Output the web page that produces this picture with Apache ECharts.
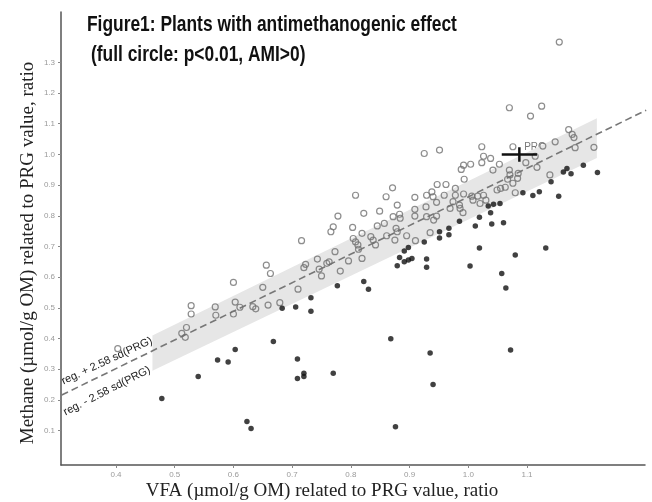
<!DOCTYPE html>
<html>
<head>
<meta charset="utf-8">
<script src="https://cdn.jsdelivr.net/npm/echarts@6/dist/echarts.min.js"></script>
<style>
html, body { margin: 0; padding: 0; background: #fff; }
#chart { width: 652px; height: 502px; }
</style>
</head>
<body>
<div id="chart"></div>
<script>
// tick labels
var xTicks = [0.4, 0.5, 0.6, 0.7, 0.8, 0.9, 1.0, 1.1];
var yTicks = [0.1, 0.2, 0.3, 0.4, 0.5, 0.6, 0.7, 0.8, 0.9, 1.0, 1.1, 1.2, 1.3];

// open circles (not significant)
var openX = [0.403,0.528,0.528,0.520,0.512,0.518,0.569,0.570,0.600,0.603,
  0.600,0.611,0.633,0.638,0.659,0.656,0.663,0.650,0.679,0.808,
  0.871,0.860,0.879,0.849,0.822,0.778,0.883,0.872,0.884,0.857,
  0.845,0.803,0.770,0.766,0.877,0.879,0.861,0.875,0.819,0.804,
  0.808,0.812,0.813,0.834,0.838,0.842,0.716,0.773,0.743,0.759,
  0.763,0.796,0.819,0.723,0.720,0.746,0.750,0.782,0.710,0.895,
  1.070,1.125,1.106,0.925,0.951,1.023,1.076,1.148,1.026,1.038,
  1.023,1.053,1.004,0.992,0.988,1.042,1.098,1.114,1.117,1.070,
  1.071,1.085,1.084,1.067,1.076,0.993,1.139,1.049,1.055,1.063,
  1.080,1.026,1.016,1.030,1.020,0.947,0.962,0.978,0.909,0.929,
  0.938,0.940,0.959,0.946,0.978,0.992,0.974,0.985,1.006,1.008,
  0.909,0.909,0.928,0.929,0.946,0.969,0.986,0.910,1.155,1.171,
  1.177,1.180,1.127,1.182,1.214,0.941,0.935,0.991];
var openY = [0.367,0.507,0.480,0.436,0.417,0.404,0.503,0.476,0.583,0.519,
  0.480,0.502,0.504,0.497,0.509,0.639,0.612,0.567,0.517,0.867,
  0.891,0.862,0.835,0.815,0.808,0.799,0.805,0.797,0.792,0.775,
  0.767,0.762,0.764,0.748,0.759,0.748,0.735,0.721,0.743,0.726,
  0.715,0.705,0.691,0.732,0.721,0.705,0.719,0.683,0.659,0.645,
  0.650,0.653,0.661,0.642,0.631,0.626,0.604,0.620,0.561,0.735,
  1.152,1.157,1.125,1.003,1.014,1.025,1.025,1.041,0.994,0.987,
  0.973,0.968,0.968,0.965,0.951,0.949,0.973,0.994,0.958,0.949,
  0.933,0.938,0.922,0.919,0.906,0.919,0.933,0.884,0.889,0.893,
  0.875,0.867,0.864,0.851,0.840,0.902,0.902,0.889,0.860,0.867,
  0.878,0.862,0.867,0.844,0.867,0.871,0.846,0.835,0.864,0.851,
  0.821,0.799,0.829,0.797,0.799,0.824,0.824,0.719,1.366,1.081,
  1.065,1.055,1.027,1.022,1.023,0.786,0.745,0.810];

// full circles (p<0.01, AMI>0)
var fullX = [0.478,0.540,0.573,0.591,0.603,0.668,0.709,0.709,0.720,0.720,
  0.770,0.623,0.630,0.868,0.935,0.940,0.876,0.683,0.706,0.732,
  0.732,0.777,0.822,0.830,0.879,0.883,0.891,0.898,0.891,0.898,
  0.904,0.929,0.929,0.925,0.951,0.951,0.967,0.967,0.985,1.012,
  1.019,1.019,1.003,1.038,1.034,1.043,1.054,1.040,1.060,1.080,
  1.057,1.064,1.132,1.072,1.141,1.154,1.093,1.110,1.121,1.162,
  1.168,1.175,1.196,1.220];
var fullY = [0.205,0.276,0.330,0.324,0.364,0.390,0.333,0.270,0.287,0.276,
  0.287,0.130,0.107,0.399,0.353,0.250,0.113,0.499,0.503,0.533,
  0.489,0.572,0.586,0.561,0.637,0.664,0.685,0.697,0.650,0.656,
  0.661,0.659,0.632,0.715,0.748,0.728,0.759,0.738,0.782,0.767,
  0.795,0.695,0.636,0.810,0.832,0.838,0.840,0.773,0.777,0.672,
  0.612,0.565,0.695,0.363,0.911,0.864,0.875,0.866,0.878,0.943,
  0.954,0.937,0.965,0.941];

// regression line and +/- 2.58 sd(PRG) band
var regX = [0.3075, 1.303];
var regY = [0.216, 1.144];
var bandX = [0.462, 1.219];
var bandUpper = [0.410, 1.118];
var bandLower = [0.295, 0.988];

// PRG reference with its spread
var prgX = [1.057, 1.087, 1.117];
var prgY = [0.976, 1.0, 1.023];

function zip(a, b) {
  var out = [];
  for (var i = 0; i < a.length; i++) out.push([a[i], b[i]]);
  return out;
}

var tickFont = { fontSize: 8, color: '#9a9a9a', fontFamily: 'Liberation Sans' };
var titleFont = 'bold 22px "Liberation Sans"';

var option = {
  animation: false,
  backgroundColor: '#fff',
  grid: { left: 61, right: 7, top: 12, bottom: 37 },
  xAxis: {
    type: 'value',
    min: 0.3063,
    max: 1.301,
    axisLine: { show: true, onZero: false, lineStyle: { color: '#555', width: 1.5 } },
    axisTick: { show: true, length: 3, customValues: xTicks, lineStyle: { color: '#888' } },
    axisLabel: Object.assign({ customValues: xTicks, margin: 6, formatter: function (v) { return v.toFixed(1); } }, tickFont),
    splitLine: { show: false }
  },
  yAxis: {
    type: 'value',
    min: -0.012,
    max: 1.464,
    axisLine: { show: true, onZero: false, lineStyle: { color: '#555', width: 1.5 } },
    axisTick: { show: true, length: 3, customValues: yTicks, lineStyle: { color: '#888' } },
    axisLabel: Object.assign({ customValues: yTicks, margin: 6, formatter: function (v) { return v.toFixed(1); } }, tickFont),
    splitLine: { show: false }
  },
  graphic: [
    {
      type: 'text', x: 87, y: 14, scaleX: 0.79,
      style: { text: 'Figure1: Plants with antimethanogenic effect', font: titleFont, fill: '#111',
        align: 'left', verticalAlign: 'top' }
    },
    {
      type: 'text', x: 91, y: 44, scaleX: 0.79,
      style: { text: '(full circle: p<0.01, AMI>0)', font: titleFont, fill: '#111',
        align: 'left', verticalAlign: 'top' }
    },
    {
      type: 'text', x: 322, y: 491,
      style: {
        text: 'VFA (µmol/g OM) related to PRG value, ratio',
        font: '19px "Liberation Serif"', fill: '#222',
        align: 'center', verticalAlign: 'middle'
      }
    },
    {
      type: 'text', x: 28, y: 253, rotation: Math.PI / 2,
      style: {
        text: 'Methane (µmol/g OM) related to PRG value, ratio',
        font: '19px "Liberation Serif"', fill: '#222',
        align: 'center', verticalAlign: 'middle'
      }
    },
    {
      type: 'text', x: 107, y: 361, rotation: 25 * Math.PI / 180,
      style: {
        text: 'reg. + 2.58 sd(PRG)', font: '11px "Liberation Sans"', fill: '#222',
        align: 'center', verticalAlign: 'middle'
      }
    },
    {
      type: 'text', x: 107, y: 391, rotation: 27 * Math.PI / 180,
      style: {
        text: 'reg. - 2.58 sd(PRG)', font: '11px "Liberation Sans"', fill: '#222',
        align: 'center', verticalAlign: 'middle'
      }
    },
    {
      type: 'text', x: 535, y: 147,
      style: {
        text: 'PRG', font: '10px "Liberation Sans"', fill: '#777',
        align: 'center', verticalAlign: 'middle'
      }
    }
  ],
  series: [
    {
      type: 'custom',
      silent: true,
      data: [[bandX[0], bandLower[0]]],
      renderItem: function (params, api) {
        var pts = [
          api.coord([bandX[0], bandUpper[0]]),
          api.coord([bandX[1], bandUpper[1]]),
          api.coord([bandX[1], bandLower[1]]),
          api.coord([bandX[0], bandLower[0]])
        ];
        return { type: 'polygon', shape: { points: pts }, style: { fill: '#e6e6e6' } };
      },
      z: 1
    },
    {
      type: 'line',
      data: zip(regX, regY),
      symbol: 'none',
      silent: true,
      lineStyle: { color: '#777', width: 1.6, type: [7, 4] },
      z: 2
    },
    {
      type: 'scatter',
      data: zip(openX, openY),
      symbol: 'circle',
      symbolSize: 6,
      itemStyle: { color: 'rgba(0,0,0,0)', borderColor: '#707070', borderWidth: 1.2 },
      z: 3
    },
    {
      type: 'scatter',
      data: zip(fullX, fullY),
      symbol: 'circle',
      symbolSize: 5.5,
      itemStyle: { color: '#111' },
      z: 4
    },
    {
      type: 'line',
      data: [[prgX[0], prgY[1]], [prgX[2], prgY[1]]],
      symbol: 'none',
      lineStyle: { color: '#111', width: 2.5 },
      z: 5
    },
    {
      type: 'line',
      data: [[prgX[1], prgY[0]], [prgX[1], prgY[2]]],
      symbol: 'none',
      lineStyle: { color: '#111', width: 2.5 },
      z: 5
    }
  ]
};

var chart = echarts.init(document.getElementById('chart'));
chart.setOption(option);
</script>
</body>
</html>
